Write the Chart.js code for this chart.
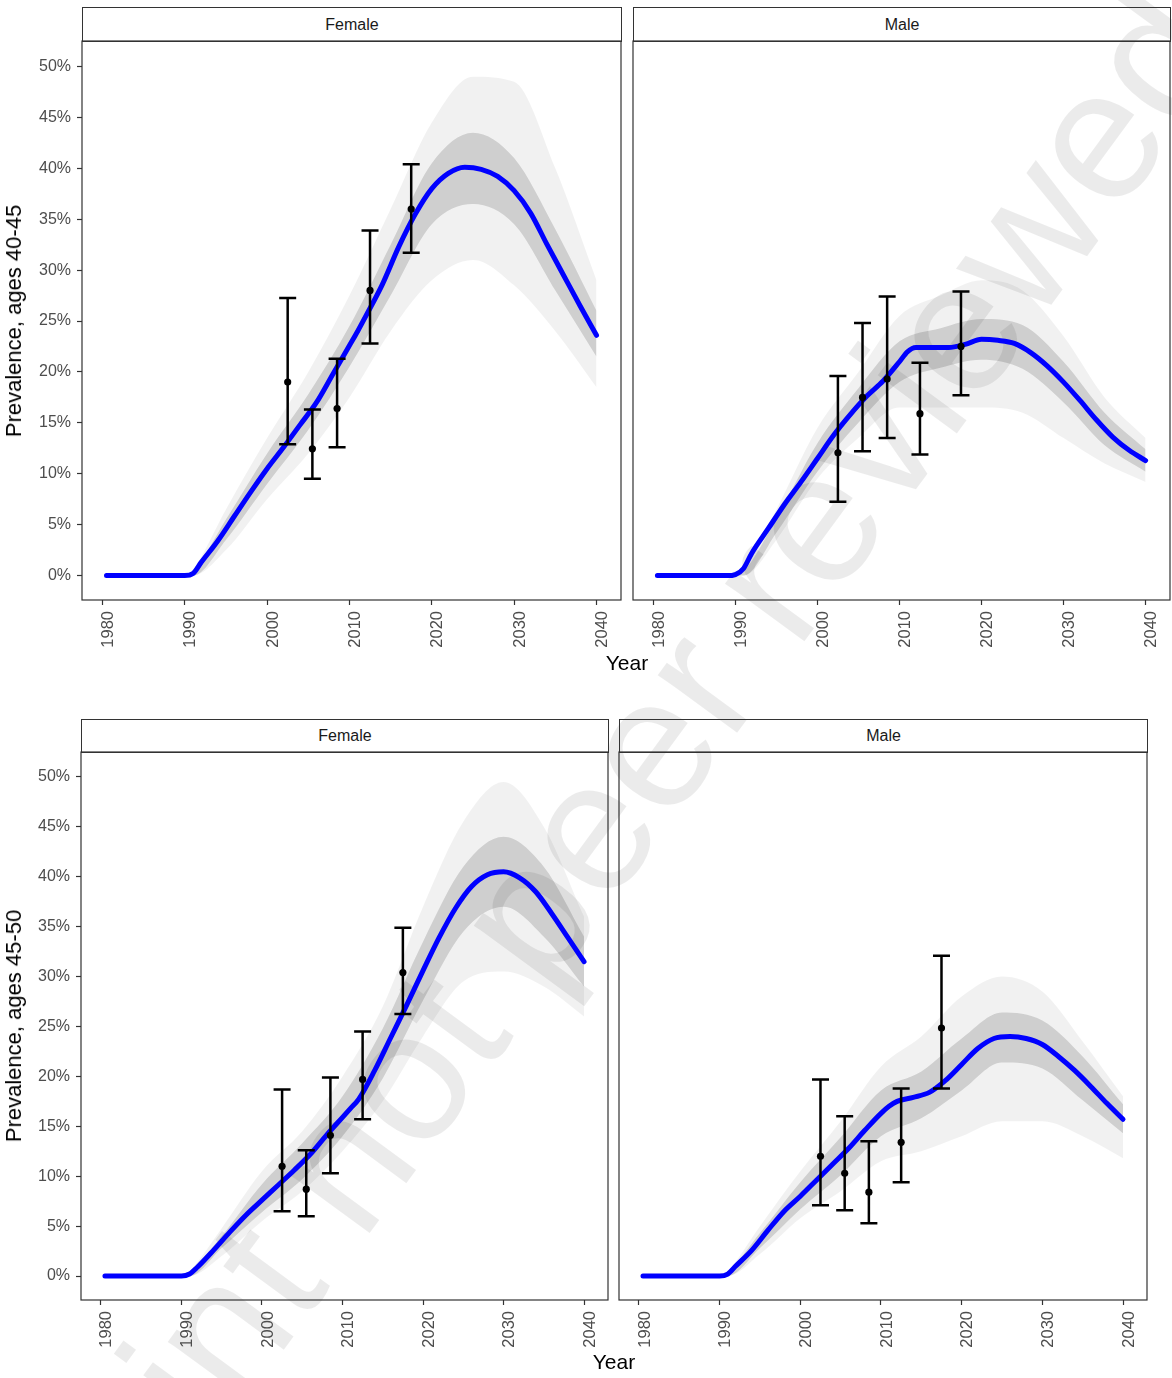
<!DOCTYPE html>
<html>
<head>
<meta charset="utf-8">
<script src="https://cdn.jsdelivr.net/npm/chart.js@4.4.1/dist/chart.umd.min.js"></script>
<style>
html,body{margin:0;padding:0;background:#fff;}
body{width:1172px;height:1378px;position:relative;overflow:hidden;font-family:"Liberation Sans",Arial,sans-serif;}
.wm{position:absolute;left:540px;top:893px;transform:translate(-50%,-50%) rotate(-53.7deg);white-space:nowrap;font-size:186px;line-height:186px;color:rgba(0,0,0,0.08);pointer-events:none;}
.strip{position:absolute;box-sizing:border-box;border:1px solid #333;font-size:16px;color:#1a1a1a;text-align:center;background:transparent;}
canvas{position:absolute;}
.ytitle{position:absolute;transform:translate(-50%,-50%) rotate(-90deg);white-space:nowrap;font-size:22px;line-height:22px;color:#000;}
.xtitle{position:absolute;transform:translateX(-50%);white-space:nowrap;font-size:21px;line-height:21px;color:#000;}
</style>
</head>
<body>
<div class="wm">Preprint not peer reviewed</div>

<div class="strip" id="s_tl">Female</div>
<div class="strip" id="s_tr">Male</div>
<div class="strip" id="s_bl">Female</div>
<div class="strip" id="s_br">Male</div>

<canvas id="c_tl"></canvas>
<canvas id="c_tr"></canvas>
<canvas id="c_bl"></canvas>
<canvas id="c_br"></canvas>

<div class="ytitle" style="left:13.5px;top:321px;">Prevalence, ages 40-45</div>
<div class="ytitle" style="left:13.5px;top:1026px;">Prevalence, ages 45-50</div>
<div class="xtitle" style="left:627px;top:652px;">Year</div>
<div class="xtitle" style="left:614px;top:1351px;">Year</div>

<script>
// ---------- axis ticks ----------
const xTicks = [1980, 1990, 2000, 2010, 2020, 2030, 2040];
const yTicks = [0, 5, 10, 15, 20, 25, 30, 35, 40, 45, 50];

// ---------- model median (blue line) ----------
const lineYears = [1980.5,1985,1989,1990,1991,1992,1994,1996,1998,2000,2002,2004,2006,2008,2010,2011,2012,2014,2016,2018,2020,2022,2024,2026,2028,2030,2032,2034,2036,2038,2040];
const female4045Line = [0,0,0,0,0.2,1.3,3.4,5.8,8.2,10.5,12.6,14.8,17.0,19.8,22.6,24.0,25.5,28.6,32.3,35.5,38.0,39.5,40.1,39.9,39.2,37.8,35.6,32.5,29.5,26.5,23.6];
const male4045Line   = [0,0,0,0.1,0.7,2.2,4.6,7.0,9.2,11.5,13.8,15.8,17.6,19.1,21.0,22.0,22.4,22.4,22.4,22.7,23.2,23.1,22.8,21.9,20.6,19.0,17.2,15.3,13.6,12.3,11.3];
const female4550Line = [0,0,0,0,0.2,0.9,2.6,4.4,6.1,7.6,9.1,10.6,12.2,14.1,15.9,16.8,17.7,20.6,23.9,27.2,30.6,33.9,36.8,39.0,40.2,40.5,39.9,38.5,36.3,33.9,31.5];
const male4550Line   = [0,0,0,0,0.2,1.0,2.6,4.6,6.5,8.0,9.6,11.2,12.8,14.6,16.3,17.0,17.5,17.9,18.4,19.6,21.2,22.8,23.8,24.0,23.8,23.2,22.0,20.6,19.0,17.3,15.7];

// ---------- simulation envelopes (grey) ----------
const bandYears = [1980.5,1990,1991,1995,2000,2005,2010,2015,2020,2025,2030,2035,2040];
const female4045OuterHi = [0,0,0.6,6.5,13.5,20,27.5,36,44.5,49,48.5,40,29];
const female4045OuterLo = [0,0,0,2.5,7.5,12,17.5,24,29,31,28.5,24,18.5];
const female4045InnerHi = [0,0,0.4,5.5,12,17.8,24.5,32.5,40.5,43.5,41,34,26];
const female4045InnerLo = [0,0,0,3.5,9,14.3,20.5,27.5,34.5,36.5,34.5,28,21.5];
const male4045OuterHi = [0,0,0.6,6.5,14.5,20,25.5,27.5,29,28,23.5,17.5,13.5];
const male4045OuterLo = [0,0,0,3.5,9.5,13.5,16.5,16.5,16.5,16,13.5,11,9.2];
const male4045InnerHi = [0,0,0.4,5.6,13,18.4,23,24.3,25.2,24.6,21,16,12.4];
const male4045InnerLo = [0,0,0,4.2,10.2,15,19,20.4,21.2,20.3,17,12.8,10.2];
const female4550OuterHi = [0,0,0.5,4.8,10.5,14.5,20,27,37,45.5,49.5,45,36];
const female4550OuterLo = [0,0,0,2,5.5,8.5,12.5,17.5,24,29.5,30.5,29,26];
const female4550InnerHi = [0,0,0.4,4,9.2,13.3,18,24.8,33.5,41,44,41,34];
const female4550InnerLo = [0,0,0,2.8,6.4,9.7,14,19.8,27.6,34.5,37,34,29];
const male4550OuterHi = [0,0,0.5,5,10.5,15.5,21,24,28,30,28.5,23.5,18];
const male4550OuterLo = [0,0,0,2.2,5.8,8.5,11.5,12.5,14,15.5,15.5,14,11.8];
const male4550InnerHi = [0,0,0.4,4.3,9.4,13.9,18.6,20.5,23.8,26.4,25.6,22,17.2];
const male4550InnerLo = [0,0,0,2.8,6.7,10.1,14,15.8,18.6,21.4,20.8,17.6,14.3];

// ---------- survey estimates with 95% intervals ----------
const surveyYears = [2002.5, 2005.5, 2008.5, 2012.5, 2017.5];
const female4045Est = [19.0, 12.45, 16.4, 28.0, 36.0];
const female4045Lo  = [12.9, 9.5, 12.6, 22.8, 31.7];
const female4045Hi  = [27.25, 16.3, 21.3, 33.9, 40.4];
const male4045Est = [12.05, 17.5, 19.3, 15.9, 22.5];
const male4045Lo  = [7.25, 12.2, 13.5, 11.9, 17.7];
const male4045Hi  = [19.6, 24.8, 27.4, 20.9, 27.9];
const female4550Est = [11.0, 8.7, 14.1, 19.7, 30.4];
const female4550Lo  = [6.5, 6.0, 10.3, 15.7, 26.25];
const female4550Hi  = [18.7, 12.6, 19.9, 24.5, 34.9];
const male4550Est = [12.0, 10.3, 8.4, 13.4, 24.85];
const male4550Lo  = [7.1, 6.6, 5.3, 9.4, 18.8];
const male4550Hi  = [19.7, 16.0, 13.5, 18.8, 32.1];

const FONT = '"Liberation Sans", Arial, sans-serif';

function toXY(xs, ys) { return xs.map((x, i) => ({ x: x, y: ys[i] })); }

const framePlugin = {
  id: 'frame',
  afterDraw(chart) {
    const a = chart.chartArea, ctx = chart.ctx;
    ctx.save();
    ctx.strokeStyle = '#333';
    ctx.lineWidth = 1.2;
    ctx.strokeRect(a.left, a.top, a.right - a.left, a.bottom - a.top);
    ctx.restore();
  }
};

function makeErrPlugin(xs, lo, hi, idx) {
  return {
    id: 'errbars',
    beforeDatasetDraw(chart, args) {
      if (args.index !== idx) return;
      const ctx = chart.ctx, sx = chart.scales.x, sy = chart.scales.y;
      ctx.save();
      ctx.strokeStyle = '#000';
      ctx.lineWidth = 2.5;
      ctx.beginPath();
      xs.forEach((yr, i) => {
        const px = sx.getPixelForValue(yr);
        const pt = sy.getPixelForValue(hi[i]);
        const pb = sy.getPixelForValue(lo[i]);
        ctx.moveTo(px, pt); ctx.lineTo(px, pb);
        ctx.moveTo(px - 8.5, pt); ctx.lineTo(px + 8.5, pt);
        ctx.moveTo(px - 8.5, pb); ctx.lineTo(px + 8.5, pb);
      });
      ctx.stroke();
      ctx.restore();
    }
  };
}

const panels = [
  { canvas: 'c_tl', strip: 's_tl', stripTop: 7, plot: { l: 82, t: 41, r: 621, b: 600 }, showY: true,
    line: female4045Line, oHi: female4045OuterHi, oLo: female4045OuterLo, iHi: female4045InnerHi, iLo: female4045InnerLo,
    est: female4045Est, lo: female4045Lo, hi: female4045Hi },
  { canvas: 'c_tr', strip: 's_tr', stripTop: 7, plot: { l: 633, t: 41, r: 1170, b: 600 }, showY: false,
    line: male4045Line, oHi: male4045OuterHi, oLo: male4045OuterLo, iHi: male4045InnerHi, iLo: male4045InnerLo,
    est: male4045Est, lo: male4045Lo, hi: male4045Hi },
  { canvas: 'c_bl', strip: 's_bl', stripTop: 719, plot: { l: 81, t: 752, r: 608, b: 1300 }, showY: true,
    line: female4550Line, oHi: female4550OuterHi, oLo: female4550OuterLo, iHi: female4550InnerHi, iLo: female4550InnerLo,
    est: female4550Est, lo: female4550Lo, hi: female4550Hi },
  { canvas: 'c_br', strip: 's_br', stripTop: 719, plot: { l: 619, t: 752, r: 1147, b: 1300 }, showY: false,
    line: male4550Line, oHi: male4550OuterHi, oLo: male4550OuterLo, iHi: male4550InnerHi, iLo: male4550InnerLo,
    est: male4550Est, lo: male4550Lo, hi: male4550Hi }
];

panels.forEach(p => {
  // strip header
  const s = document.getElementById(p.strip);
  const sh = p.plot.t - p.stripTop + 1;
  s.style.left = p.plot.l + 'px';
  s.style.top = p.stripTop + 'px';
  s.style.width = (p.plot.r - p.plot.l + 1) + 'px';
  s.style.height = sh + 'px';
  s.style.lineHeight = (sh - 2) + 'px';

  const YW = p.showY ? p.plot.l : 10;
  const XH = 62;
  const w = YW + (p.plot.r - p.plot.l) + 2;
  const h = 1 + (p.plot.b - p.plot.t) + XH;
  const cv = document.getElementById(p.canvas);
  cv.width = w; cv.height = h;
  cv.style.width = w + 'px'; cv.style.height = h + 'px';
  cv.style.left = (p.plot.l - YW) + 'px';
  cv.style.top = (p.plot.t - 1) + 'px';

  const band = (ys, extra) => Object.assign({
    data: toXY(bandYears, ys), borderWidth: 0, pointRadius: 0, fill: false,
    cubicInterpolationMode: 'monotone'
  }, extra);

  new Chart(cv, {
    type: 'line',
    data: {
      datasets: [
        band(p.oLo, { order: 4 }),
        band(p.oHi, { order: 4, fill: '-1', backgroundColor: 'rgba(0,0,0,0.055)' }),
        band(p.iLo, { order: 3 }),
        band(p.iHi, { order: 3, fill: '-1', backgroundColor: 'rgba(0,0,0,0.14)' }),
        { data: toXY(lineYears, p.line), borderColor: '#0000ff', borderWidth: 5, pointRadius: 0,
          fill: false, order: 2, cubicInterpolationMode: 'monotone', borderCapStyle: 'round', borderJoinStyle: 'round' },
        { type: 'scatter', data: toXY(surveyYears, p.est), pointRadius: 3.6, backgroundColor: '#000',
          borderColor: '#000', borderWidth: 0, order: 1 }
      ]
    },
    options: {
      responsive: false, animation: false, devicePixelRatio: 1,
      layout: { autoPadding: false, padding: { top: 1, right: 2, left: 0, bottom: 0 } },
      plugins: { legend: { display: false }, tooltip: { enabled: false } },
      scales: {
        x: {
          type: 'linear', min: 1977.525, max: 2042.975,
          afterBuildTicks: sc => { sc.ticks = xTicks.map(v => ({ value: v })); },
          afterFit: sc => { sc.height = XH; sc.paddingLeft = 0; sc.paddingRight = 0; },
          grid: { display: true, drawOnChartArea: false, drawTicks: true, tickLength: 5, tickColor: '#333', tickWidth: 1.2 },
          border: { display: false },
          ticks: { autoSkip: false, minRotation: 90, maxRotation: 90, padding: 6, labelOffset: 6,
                   color: '#4d4d4d', font: { family: FONT, size: 16.5 }, callback: v => String(v) }
        },
        y: {
          type: 'linear', min: -2.4, max: 52.5,
          afterBuildTicks: sc => { sc.ticks = yTicks.map(v => ({ value: v })); },
          afterFit: sc => { sc.width = YW; sc.paddingTop = 0; sc.paddingBottom = 0; },
          grid: { display: p.showY, drawOnChartArea: false, drawTicks: true, tickLength: 5, tickColor: '#333', tickWidth: 1.2 },
          border: { display: false },
          ticks: { display: p.showY, padding: 6, color: '#4d4d4d', font: { family: FONT, size: 16 },
                   callback: v => v + '%' }
        }
      }
    },
    plugins: [framePlugin, makeErrPlugin(surveyYears, p.lo, p.hi, 5)]
  });
});
</script>
</body>
</html>
